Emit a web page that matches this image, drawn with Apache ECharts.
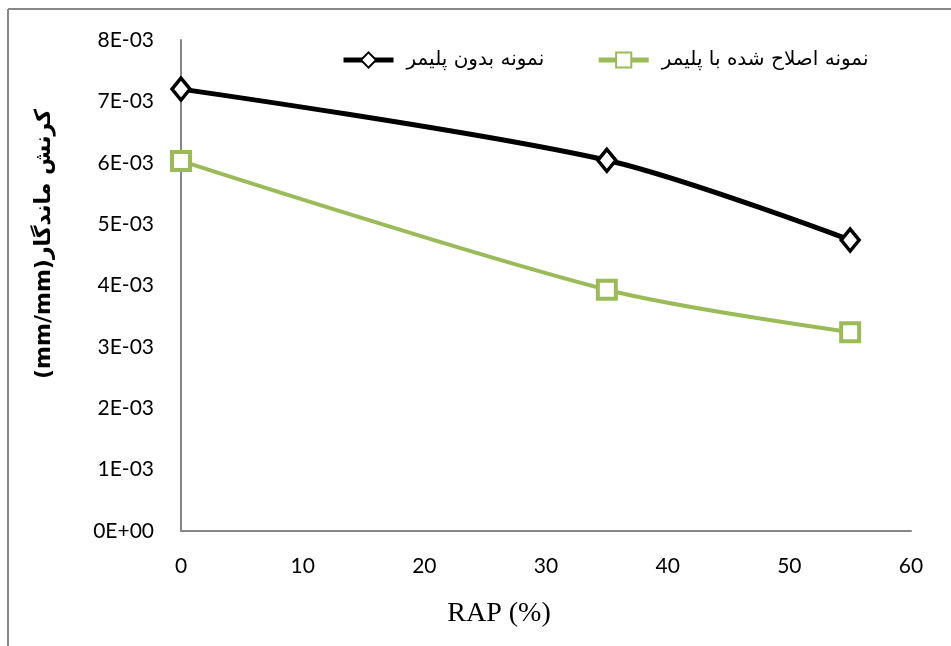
<!DOCTYPE html>
<html><head><meta charset="utf-8">
<script src="https://cdn.jsdelivr.net/npm/echarts@6/dist/echarts.min.js"></script>
<style>html,body{margin:0;padding:0;background:#fff}#c{width:951px;height:646px}</style>
</head><body><div id="c"></div>
<script>
const xValues = [0, 35, 55];
const seriesNames = ['نمونه بدون پلیمر', 'نمونه اصلاح شده با پلیمر'];
const noPolymer = [0.00720, 0.00604, 0.00474];
const withPolymer = [0.00603, 0.00393, 0.00324];
const yTickLabels = ['0E+00','1E-03','2E-03','3E-03','4E-03','5E-03','6E-03','7E-03','8E-03'];
const xTickLabels = ['0','10','20','30','40','50','60'];
const yAxisTitle = '(mm/mm)کرنش ماندگار';
const xAxisTitle = 'RAP (%)';

const chart = echarts.init(document.getElementById('c'));
const labelFont = 'Lato, "Open Sans", sans-serif';
chart.setOption({
  animation: false,
  backgroundColor: '#fff',
  grid: {left: 181, right: 40, top: 40, bottom: 115},
  legend: {
    left: 336, top: 45, itemGap: 52, itemWidth: 50, itemHeight: 19,
    lineStyle: {width: 5},
    textStyle: {fontFamily: '"DejaVu Sans", sans-serif', fontSize: 20, color: '#000', padding: [0, 0, 0, 8]},
    data: seriesNames
  },
  xAxis: {
    type: 'value', min: 0, max: 60, interval: 10,
    axisLine: {lineStyle: {color: '#868686', width: 2}},
    axisTick: {show: false}, splitLine: {show: false},
    axisLabel: {margin: 25, fontSize: 21, color: '#000', fontFamily: labelFont,
      formatter: v => xTickLabels[Math.round(v / 10)]}
  },
  yAxis: {
    type: 'value', min: 0, max: 0.008, interval: 0.001,
    axisLine: {show: true, lineStyle: {color: '#868686', width: 2}},
    axisTick: {show: false}, splitLine: {show: false},
    axisLabel: {margin: 27, fontSize: 21, color: '#000', fontFamily: labelFont,
      formatter: v => yTickLabels[Math.round(v * 1000)]}
  },
  graphic: [
    {type: 'line', shape: {x1: 8, y1: 9, x2: 951, y2: 9}, style: {stroke: '#888', lineWidth: 2}},
    {type: 'line', shape: {x1: 8, y1: 9, x2: 8, y2: 646}, style: {stroke: '#888', lineWidth: 2}},
    {type: 'text', x: 44, y: 244, rotation: Math.PI / 2,
      style: {text: yAxisTitle, fontSize: 22, fontWeight: 'bold', fontFamily: '"DejaVu Sans", sans-serif',
        fill: '#000', align: 'center', verticalAlign: 'middle'}},
    {type: 'text', x: 499, y: 614,
      style: {text: xAxisTitle, fontSize: 28, fontFamily: '"Liberation Serif", serif',
        fill: '#000', align: 'center', verticalAlign: 'middle'}}
  ],
  series: [
    {name: seriesNames[0], type: 'line', smooth: 0.3,
      data: xValues.map((x, i) => [x, noPolymer[i]]),
      symbol: 'diamond', symbolSize: [18, 22],
      lineStyle: {color: '#000', width: 5},
      itemStyle: {color: '#fff', borderColor: '#000', borderWidth: 3.5}},
    {name: seriesNames[1], type: 'line', smooth: 0.3,
      data: xValues.map((x, i) => [x, withPolymer[i]]),
      symbol: 'rect', symbolSize: 18,
      lineStyle: {color: '#9bbb59', width: 4},
      itemStyle: {color: '#fff', borderColor: '#9bbb59', borderWidth: 4}}
  ]
});
</script></body></html>
